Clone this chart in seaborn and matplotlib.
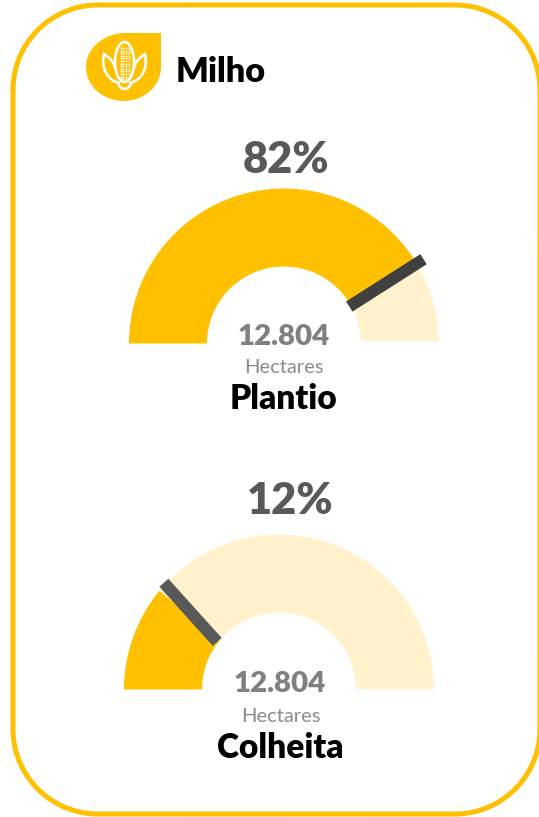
import numpy as np
import pandas as pd
import seaborn as sns
import matplotlib.pyplot as plt
from matplotlib.patches import PathPatch, Ellipse, Rectangle
from matplotlib.path import Path

sns.set_theme(style='white')
plt.rcParams['font.family'] = ['Lato', 'DejaVu Sans']

# values
title = 'Milho'
gauge_names = ['Plantio', 'Colheita']
pct_labels = ['82%', '12%']
area_labels = ['12.804', '12.804']
unit_label = 'Hectares'
fill_share = [82.0, 22.0]
needle_share = [[83.6, 82.7], [20.9, 23.8]]
needle_radius = [[75, 163], [78, 157]]
needle_colors = ['#404040', '#595959']

YELLOW = '#FFC000'
PALE = '#FFF2CC'
W, H = 539, 817
centers = [(284, 343.5), (279, 689.5)]
R_OUT, R_IN = 155, 77
BOX = 170


def to_theta(share):
    return np.pi * (1 - np.asarray(share, dtype=float) / 100)


def draw_gauge(i):
    cx, cy = centers[i]
    ax = fig.add_axes([(cx - BOX) / W, 1 - (cy + BOX) / H, 2 * BOX / W, 2 * BOX / H],
                      projection='polar')
    ax.patch.set_alpha(0)
    lo, mid, hi = to_theta([0, fill_share[i], 100])
    ax.bar(mid, R_OUT - R_IN, width=lo - mid, bottom=R_IN, align='edge', color=YELLOW, linewidth=0)
    ax.bar(hi, R_OUT - R_IN, width=mid - hi, bottom=R_IN, align='edge', color=PALE, linewidth=0)
    needle = pd.DataFrame({'theta': to_theta(needle_share[i]), 'r': needle_radius[i]})
    sns.lineplot(data=needle, x='theta', y='r', ax=ax, color=needle_colors[i],
                 linewidth=8.6, solid_capstyle='butt', errorbar=None)
    ax.set_rlim(0, BOX)
    ax.set_axis_off()


def round_frame(x0, y0, x1, y1, r):
    t = np.linspace(0, np.pi / 2, 60)
    xs = np.concatenate([x0 + r - r * np.cos(t), x1 - r + r * np.sin(t),
                         x1 - r + r * np.cos(t), x0 + r - r * np.sin(t), [x0]])
    ys = np.concatenate([y0 + r - r * np.sin(t), y0 + r - r * np.cos(t),
                         y1 - r + r * np.sin(t), y1 - r + r * np.cos(t), [y0 + r]])
    return xs, ys


fig = plt.figure(figsize=(W / 100, H / 100), dpi=100)
for i in range(2):
    draw_gauge(i)

# page layer in pixel coordinates
page = fig.add_axes([0, 0, 1, 1], zorder=5)
page.set_xlim(0, W)
page.set_ylim(H, 0)
page.axis('off')
page.patch.set_alpha(0)

# the pale arc of the first gauge stops a little above the orange one
page.add_patch(Rectangle((355, 341), 90, 5, facecolor='white', edgecolor='none'))

frame_x, frame_y = round_frame(13, 5, 540, 814, 85)
page.plot(frame_x, frame_y, color=YELLOW, linewidth=3.6, solid_capstyle='round', snap=False)

# corn icon
C = Path.CURVE4
drop = Path([(161, 33), (161, 67), (161, 86), (144, 101), (124, 101),
             (103, 101), (86, 86), (86, 67), (86, 48), (104, 33), (126, 33), (161, 33)],
            [Path.MOVETO, Path.LINETO, C, C, C, C, C, C, C, C, C, Path.LINETO])
page.add_patch(PathPatch(drop, facecolor=YELLOW, edgecolor='none'))

white = dict(fill=False, edgecolor='white', linewidth=1.9, capstyle='round')
page.add_patch(Ellipse((124.5, 62), 19, 40, **white))
leaves = [
    [(104, 54), (101, 66), (106, 80), (119, 83)],
    [(104, 54), (110, 58), (114, 62), (115, 68)],
    [(145, 54), (148, 66), (143, 80), (130, 83)],
    [(145, 54), (139, 58), (135, 62), (134, 68)],
    [(118, 83), (120, 91), (129, 91), (131, 83)],
]
for leaf in leaves:
    page.add_patch(PathPatch(Path(leaf, [Path.MOVETO, C, C, C]), **white))
dot_x, dot_y = np.meshgrid([120.5, 123.2, 125.8, 128.5], np.arange(48, 80, 2.6))
page.scatter(dot_x.ravel(), dot_y.ravel(), s=2, color='white', linewidths=0)

page.text(176, 82, title, fontsize=24.7, fontweight='heavy', color='black', ha='left', va='baseline')

txt_pos = [
    dict(pct=(286, 172.5), area=(284, 344.5), unit=(284, 373), name=(284, 408.5)),
    dict(pct=(290, 513.5), area=(280, 692.5), unit=(281, 722), name=(280, 758.5)),
]
for i, p in enumerate(txt_pos):
    page.text(*p['pct'], pct_labels[i], fontsize=31.3, fontweight='heavy', color='#595959', ha='center', va='baseline')
    page.text(*p['area'], area_labels[i], fontsize=21.2, fontweight='heavy', color='#808080', ha='center', va='baseline')
    page.text(*p['unit'], unit_label, fontsize=14.5, color='#8C8C8C', ha='center', va='baseline')
    page.text(*p['name'], gauge_names[i], fontsize=24.1, fontweight='heavy', color='black', ha='center', va='baseline')

fig.savefig('out.png', dpi=100)
